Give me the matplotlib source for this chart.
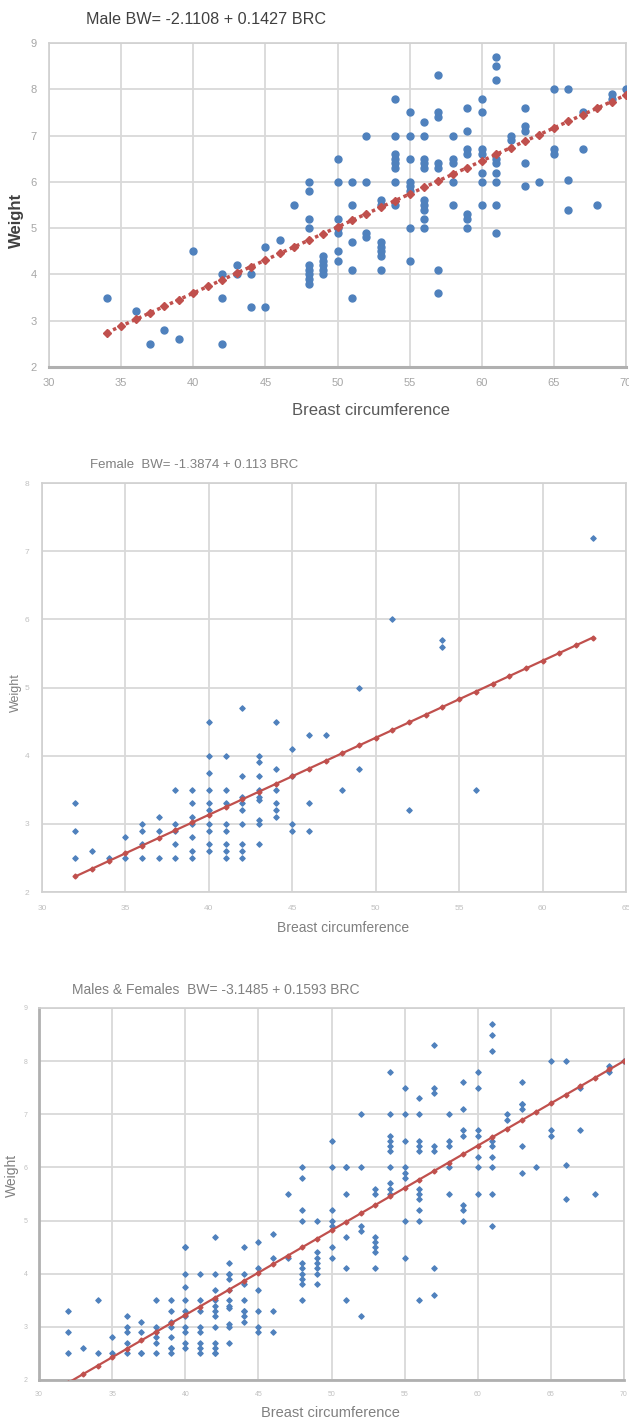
import numpy as np
import matplotlib
matplotlib.use("Agg")
import matplotlib.pyplot as plt

plt.rcParams['font.family'] = ['Liberation Sans', 'DejaVu Sans']

# ---- data ----
male_brc = ([34, 36, 37, 38, 39, 40] + [42]*3 + [43]*2 + [44]*2 + [45]*2 + [46, 47]
            + [48]*9 + [49]*5 + [50]*7 + [51]*5 + [52]*4 + [53]*7 + [54]*8 + [55]*8
            + [56]*10 + [57]*7 + [58]*5 + [59]*7 + [60]*7 + [61]*9 + [62]*2 + [63]*5
            + [64] + [65]*3 + [66]*3 + [67]*2 + [68] + [69]*2 + [70])
male_bw = [3.5, 3.2, 2.5, 2.8, 2.6, 4.5,
           4.0, 3.5, 2.5,
           4.2, 4.0,
           4.0, 3.3,
           4.6, 3.3,
           4.75, 5.5,
           6.0, 5.8, 5.2, 5.0, 4.2, 4.1, 4.0, 3.9, 3.8,
           4.4, 4.3, 4.2, 4.1, 4.0,
           6.5, 6.0, 5.2, 5.0, 4.9, 4.5, 4.3,
           6.0, 5.5, 4.7, 4.1, 3.5,
           7.0, 6.0, 4.9, 4.8,
           5.6, 5.5, 4.7, 4.6, 4.5, 4.4, 4.1,
           7.8, 7.0, 6.6, 6.5, 6.4, 6.3, 6.0, 5.5,
           7.5, 7.0, 6.5, 6.0, 5.9, 5.8, 5.0, 4.3,
           7.3, 7.0, 6.5, 6.4, 6.3, 5.6, 5.5, 5.4, 5.2, 5.0,
           8.3, 7.5, 7.4, 6.4, 6.3, 4.1, 3.6,
           7.0, 6.5, 6.4, 6.0, 5.5,
           7.6, 7.1, 6.7, 6.6, 5.3, 5.2, 5.0,
           7.8, 7.5, 6.7, 6.6, 6.2, 6.0, 5.5,
           8.7, 8.5, 8.2, 6.5, 6.4, 6.2, 6.0, 5.5, 4.9,
           7.0, 6.9,
           7.6, 7.2, 7.1, 6.4, 5.9,
           6.0,
           8.0, 6.7, 6.6,
           8.0, 6.05, 5.4,
           7.5, 6.7,
           5.5,
           7.9, 7.8,
           8.0]

female_brc = ([32]*3 + [33, 34] + [35]*2 + [36]*4 + [37]*3 + [38]*5 + [39]*7 + [40]*10
              + [41]*8 + [42]*9 + [43]*9 + [44]*6 + [45]*4 + [46]*3 + [47, 48] + [49]*2
              + [51, 52] + [54]*2 + [56, 63])
female_bw = [3.3, 2.9, 2.5,
             2.6, 2.5,
             2.8, 2.5,
             3.0, 2.9, 2.7, 2.5,
             3.1, 2.9, 2.5,
             3.5, 3.0, 2.9, 2.7, 2.5,
             3.5, 3.3, 3.1, 3.0, 2.8, 2.6, 2.5,
             4.5, 4.0, 3.75, 3.5, 3.3, 3.2, 3.0, 2.9, 2.7, 2.6,
             4.0, 3.5, 3.3, 3.0, 2.9, 2.7, 2.6, 2.5,
             4.7, 3.7, 3.4, 3.3, 3.2, 3.0, 2.7, 2.6, 2.5,
             4.0, 3.9, 3.7, 3.5, 3.4, 3.35, 3.05, 3.0, 2.7,
             4.5, 3.8, 3.5, 3.3, 3.2, 3.1,
             4.1, 3.7, 3.0, 2.9,
             4.3, 3.3, 2.9,
             4.3, 3.5,
             5.0, 3.8,
             6.0, 3.2,
             5.7, 5.6,
             3.5, 7.2]

all_brc = male_brc + female_brc
all_bw = male_bw + female_bw

# regression coefficients (intercept, slope) from the titles
male_fit = (-2.1108, 0.1427)
female_fit = (-1.3874, 0.113)
all_fit = (-3.1485, 0.1593)

titles = ["Male BW= -2.1108 + 0.1427 BRC",
          "Female  BW= -1.3874 + 0.113 BRC",
          "Males & Females  BW= -3.1485 + 0.1593 BRC"]

blue = "#4f81bd"
red = "#c0504d"
W, H = 629, 1421

fig = plt.figure(figsize=(W/100, H/100), dpi=100)


def box(l, t, r, b):
    return [l/W, 1 - b/H, (r - l)/W, (b - t)/H]


def style(ax, xlim, ylim, tick_size, tick_color):
    ax.set_xlim(*xlim)
    ax.set_ylim(*ylim)
    ax.set_xticks(np.arange(xlim[0], xlim[1] + 1, 5))
    ax.set_yticks(np.arange(ylim[0], ylim[1] + 1, 1))
    ax.grid(True, color="#d9d9d9", linewidth=1.3)
    ax.set_axisbelow(True)
    for s in ax.spines.values():
        s.set_color("#d0d0d0")
        s.set_linewidth(1.2)
    ax.tick_params(length=0, labelsize=tick_size, colors=tick_color)


# ---- panel 1: males ----
ax1 = fig.add_axes(box(49, 43, 626, 367))
style(ax1, (30, 70), (2, 9), 8, "#a6a6a6")
ax1.tick_params(axis="x", pad=8)
ax1.tick_params(axis="y", pad=9)
ax1.spines["bottom"].set_color("#b0b0b0")
ax1.spines["bottom"].set_linewidth(2.2)
ax1.scatter(male_brc, male_bw, s=25, color=blue, marker="o", zorder=3)
lx = np.arange(34, 71)
ax1.plot(lx, male_fit[0] + male_fit[1]*lx, color=red, linestyle=(0, (1, 1)),
         linewidth=2.5, marker="D", markersize=4.5, zorder=4)
fig.text(86/W, 1 - 20/H, titles[0], fontsize=11.6, color="#404040", va="center")
fig.text(16/W, 1 - 220/H, "Weight", fontsize=12, color="#404040", rotation=90,
         ha="center", va="center", fontweight="bold")
fig.text(371/W, 1 - 410/H, "Breast circumference", fontsize=12, color="#595959",
         ha="center", va="center")

# ---- panel 2: females ----
ax2 = fig.add_axes(box(42, 483, 626, 892))
style(ax2, (30, 65), (2, 8), 6, "#c0c0c0")
ax2.tick_params(axis="x", pad=9)
ax2.tick_params(axis="y", pad=9)
ax2.scatter(female_brc, female_bw, s=7, color=blue, marker="D", zorder=3)
lx = np.arange(32, 64)
ax2.plot(lx, female_fit[0] + female_fit[1]*lx, color=red, linewidth=1.6,
         marker="D", markersize=2.5, zorder=4)
fig.text(90/W, 1 - 465/H, titles[1], fontsize=9.5, color="#808080", va="center")
fig.text(16/W, 1 - 693/H, "Weight", fontsize=9, color="#808080", rotation=90,
         ha="center", va="center")
fig.text(343/W, 1 - 928/H, "Breast circumference", fontsize=10, color="#808080",
         ha="center", va="center")

# ---- panel 3: males & females ----
ax3 = fig.add_axes(box(39, 1008, 624, 1380))
style(ax3, (30, 70), (2, 9), 5, "#c0c0c0")
ax3.tick_params(axis="x", pad=8)
ax3.tick_params(axis="y", pad=8)
ax3.spines["bottom"].set_color("#b0b0b0")
ax3.spines["bottom"].set_linewidth(2)
ax3.spines["left"].set_color("#b0b0b0")
ax3.spines["left"].set_linewidth(2)
ax3.scatter(all_brc, all_bw, s=7, color=blue, marker="D", zorder=3)
lx = np.arange(32, 71)
ax3.plot(lx, all_fit[0] + all_fit[1]*lx, color=red, linewidth=1.6,
         marker="D", markersize=2.5, zorder=4, clip_on=True)
fig.text(72/W, 1 - 990/H, titles[2], fontsize=10, color="#808080", va="center")
fig.text(12/W, 1 - 1175/H, "Weight", fontsize=10, color="#808080", rotation=90,
         ha="center", va="center")
fig.text(330/W, 1 - 1413/H, "Breast circumference", fontsize=10.5, color="#808080",
         ha="center", va="center")

fig.savefig("out.png", dpi=100)
